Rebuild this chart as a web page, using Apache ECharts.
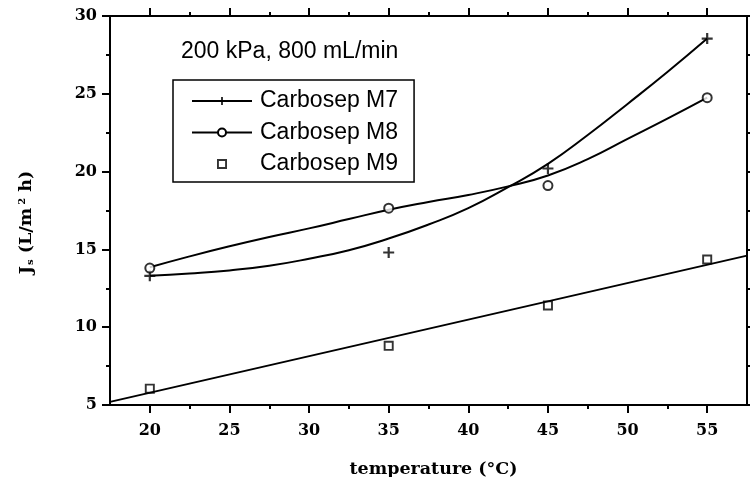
<!DOCTYPE html>
<html>
<head>
<meta charset="utf-8">
<script src="https://cdn.jsdelivr.net/npm/echarts@6/dist/echarts.min.js"></script>
<style>html,body{margin:0;padding:0;background:#fff}#c{width:750px;height:477px}</style>
</head>
<body>
<div id="c"></div>
<script>
// ---- data ----
const xMajorTicks = [20, 25, 30, 35, 40, 45, 50, 55];
const xMinorTicks = [22.5, 27.5, 32.5, 37.5, 42.5, 47.5, 52.5];
const temps = [20, 35, 45, 55];
const m7 = [13.3, 14.8, 20.2, 28.55];
const m8 = [13.8, 17.65, 19.1, 24.75];
const m9 = [6.05, 8.8, 11.4, 14.35];
// fitted curves
const fitX = [20, 22.5, 25, 27.5, 30, 32.5, 35, 37.5, 40, 42.5, 45, 47.5, 50, 52.5, 55];
const m7Fit = [13.3, 13.45, 13.65, 13.95, 14.4, 14.95, 15.7, 16.6, 17.65, 19.0, 20.5, 22.35, 24.35, 26.4, 28.55];
const m8Fit = [13.85, 14.55, 15.2, 15.8, 16.35, 16.95, 17.55, 18.05, 18.5, 19.05, 19.75, 20.8, 22.1, 23.4, 24.75];
const m9FitX = [17.5, 57.5];
const m9Fit = [5.2, 14.6];
const names = ['Carbosep M7', 'Carbosep M8', 'Carbosep M9'];

const pairs = (xs, ys) => xs.map((x, i) => [x, ys[i]]);
const plusPath = 'path://M4,0h2v4h4v2h-4v4h-2v-4h-4v-2h4z';
const squarePath = 'path://M0,0h10v10h-10zM1.9,1.9v6.2h6.2v-6.2z';
const tickFont = {fontFamily: 'DejaVu Serif', fontWeight: 'bold', fontSize: 16, color: '#000'};
const black = '#000';

function xAx(pos, vals, len, showLine, labels) {
  return {
    type: 'value', position: pos, min: 17.5, max: 57.5, gridIndex: 0,
    axisLine: {show: showLine, onZero: false, lineStyle: {color: black, width: 2}},
    axisTick: {show: true, customValues: vals, length: len, lineStyle: {color: black, width: 2}},
    axisLabel: labels ? Object.assign({customValues: xMajorTicks, margin: 18}, tickFont) : {show: false},
    splitLine: {show: false}
  };
}
function yAx(pos, labels) {
  return {
    type: 'value', position: pos, min: 5, max: 30, interval: 5, gridIndex: 0,
    axisLine: {show: true, onZero: false, lineStyle: {color: black, width: 2}},
    axisTick: {show: true, length: 8, lineStyle: {color: black, width: 2}},
    minorTick: {show: true, splitNumber: 2, length: 4, lineStyle: {color: black, width: 2}},
    axisLabel: labels ? Object.assign({margin: 13}, tickFont) : {show: false},
    splitLine: {show: false}
  };
}

const xAxes = [xAx('bottom', xMajorTicks, 8, true, true), xAx('bottom', xMinorTicks, 4, false, false),
  xAx('top', xMajorTicks, 8, true, false), xAx('top', xMinorTicks, 4, false, false)];
Object.assign(xAxes[0], {
  name: 'temperature (°C)', nameLocation: 'middle', nameGap: 55,
  nameTextStyle: {fontFamily: 'DejaVu Serif', fontWeight: 'bold', fontSize: 17.5, color: black, padding: [0, 0, 0, 10]}
});
const yAxes = [yAx('left', true), yAx('right', false)];
const nf = {fontFamily: 'DejaVu Serif', fontWeight: 'bold', fontSize: 17.5, color: black};
Object.assign(yAxes[0], {
  name: '{n|J}{sub|s}{n| (L/m}{sup|2}{n| h)}', nameLocation: 'middle', nameGap: 75, nameRotate: 90,
  nameTextStyle: {padding: [0, 24, 0, 0], rich: {
    n: nf,
    sub: Object.assign({}, nf, {fontSize: 10, verticalAlign: 'bottom', padding: [8, 0, 0, 1]}),
    sup: Object.assign({}, nf, {fontSize: 10, verticalAlign: 'top', padding: [0, 0, 8, 3]})
  }}
});

const lineStyle = {color: black, width: 2};
const option = {
  animation: false,
  backgroundColor: '#fff',
  title: {text: '200 kPa, 800 mL/min', left: 181, top: 40, padding: 0,
    textStyle: {fontFamily: 'Liberation Sans', fontWeight: 'normal', fontSize: 23, color: black}},
  legend: {
    data: names, orient: 'vertical', left: 173, top: 80,
    borderColor: black, borderWidth: 1.5, borderRadius: 0,
    padding: [9, 16, 6, 18], itemGap: 7.5, itemWidth: 60, itemHeight: 10,
    textStyle: {fontFamily: 'Liberation Sans', fontSize: 23, color: black, lineHeight: 24, padding: [0, 0, 0, 3]},
    selectedMode: false
  },
  grid: {left: 110, right: 3, top: 16, bottom: 72, containLabel: false, outerBoundsMode: 'none'},
  xAxis: xAxes,
  yAxis: yAxes,
  series: [
    {name: names[0], type: 'line', smooth: true, data: pairs(fitX, m7Fit), showSymbol: false,
      symbol: plusPath, symbolSize: 11, itemStyle: {color: black}, lineStyle: lineStyle, z: 2},
    {name: names[1], type: 'line', smooth: true, data: pairs(fitX, m8Fit), showSymbol: false,
      symbol: 'emptyCircle', symbolSize: 9, itemStyle: {color: black, borderWidth: 1.6}, lineStyle: lineStyle, z: 2},
    {name: 'M9 fit', type: 'line', data: pairs(m9FitX, m9Fit), showSymbol: false, lineStyle: lineStyle, z: 2},
    {name: names[0], type: 'scatter', data: pairs(temps, m7), symbol: plusPath, symbolSize: 11,
      itemStyle: {color: black}, z: 3},
    {name: names[1], type: 'scatter', data: pairs(temps, m8), symbol: 'emptyCircle', symbolSize: 9,
      itemStyle: {color: black, borderWidth: 1.6}, z: 3},
    {name: names[2], type: 'scatter', data: pairs(temps, m9), symbol: squarePath, symbolSize: 10,
      itemStyle: {color: black}, z: 3}
  ]
};
const chart = echarts.init(document.getElementById('c'), null, {renderer: 'canvas'});
chart.setOption(option);
</script>
</body>
</html>
